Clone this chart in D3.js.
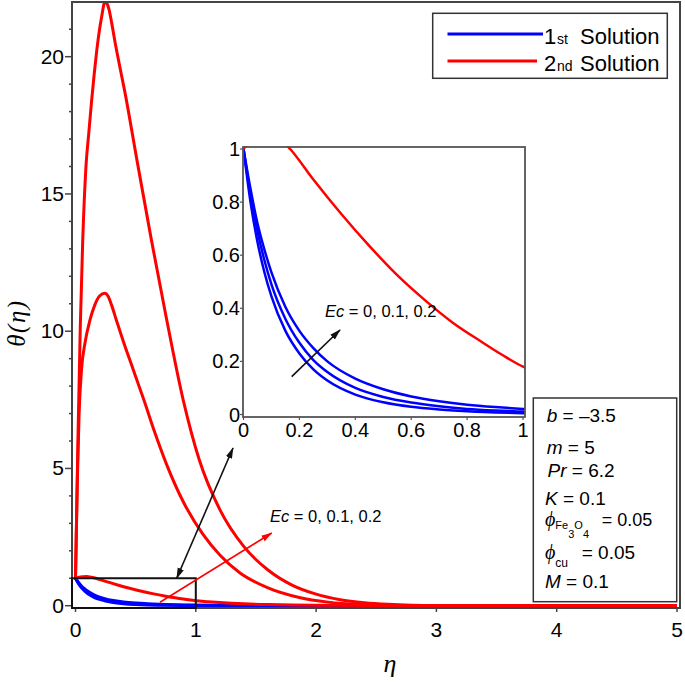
<!DOCTYPE html>
<html>
<head>
<meta charset="utf-8">
<script src="https://d3js.org/d3.v7.min.js"></script>
<style>
body {margin: 0; background: #fff;}
text {font-family: "Liberation Sans", Arial, sans-serif; fill: #000;}
.it {font-style: italic;}
.ser {font-family: "Liberation Serif", "DejaVu Serif", serif; font-style: italic;}
</style>
</head>
<body>
<div id="chart"></div>
<script>
// 2nd solution, Ec = 0.2 and Ec = 0.1
var etaBig = [0, 0.02, 0.04, 0.06, 0.087, 0.11, 0.134, 0.155, 0.176, 0.2, 0.217, 0.245, 0.26, 0.28, 0.3, 0.33, 0.37, 0.411, 0.508, 0.632, 0.75, 0.895, 1.03, 1.2, 1.4, 1.6, 1.8, 2.0, 2.2, 2.4, 2.6, 2.8, 3.0, 3.5, 4, 5];
var redEc02 = [1, 6, 10.2, 13.3, 16, 17.2, 18.4, 19.35, 20.2, 21.0, 21.45, 22.0, 21.95, 21.7, 21.25, 20.5, 19.6, 18.7, 16.3, 13.3, 10.6, 7.5, 5.3, 3.5, 2.15, 1.3, 0.75, 0.42, 0.22, 0.11, 0.05, 0.02, 0.008, 0, 0, 0];
var etaMid = [0, 0.015, 0.03, 0.05, 0.08, 0.12, 0.16, 0.2, 0.245, 0.27, 0.3, 0.34, 0.4, 0.48, 0.568, 0.66, 0.757, 0.9, 1.06, 1.2, 1.365, 1.6, 1.86, 2.1, 2.4, 2.7, 3.0, 4, 5];
var redEc01 = [1, 4.5, 7.0, 8.6, 9.6, 10.4, 10.95, 11.28, 11.38, 11.28, 10.95, 10.4, 9.6, 8.6, 7.5, 6.3, 5.15, 3.75, 2.6, 1.85, 1.2, 0.65, 0.3, 0.13, 0.04, 0.01, 0, 0, 0];
// 2nd solution, Ec = 0
var etaRed0 = [0, 0.04, 0.09, 0.13, 0.167, 0.25, 0.35, 0.45, 0.55, 0.65, 0.75, 0.85, 0.925, 1.0, 1.1, 1.2, 1.4, 1.6, 1.8, 2.0, 2.5, 3, 4, 5];
var redEc0 = [1, 1.045, 1.06, 1.04, 1.0, 0.885, 0.755, 0.635, 0.525, 0.43, 0.345, 0.275, 0.225, 0.18, 0.145, 0.115, 0.07, 0.042, 0.025, 0.015, 0.004, 0, 0, 0];

// 1st solution, Ec = 0, 0.1, 0.2
var etaBlue = [0, 0.025, 0.05, 0.075, 0.1, 0.15, 0.2, 0.25, 0.3, 0.4, 0.5, 0.6, 0.7, 0.8, 0.9, 1.0, 1.25, 1.5, 2, 3, 4, 5];
var blueEc0 = [1, 0.8, 0.65, 0.535, 0.445, 0.315, 0.23, 0.17, 0.128, 0.075, 0.046, 0.029, 0.019, 0.012, 0.008, 0.005, 0.002, 0, 0, 0, 0, 0];
var blueEc01 = [1, 0.83, 0.69, 0.58, 0.49, 0.36, 0.27, 0.205, 0.16, 0.1, 0.066, 0.045, 0.031, 0.021, 0.015, 0.011, 0.005, 0.002, 0, 0, 0, 0];
var blueEc02 = [1, 0.85, 0.72, 0.62, 0.535, 0.405, 0.315, 0.25, 0.2, 0.135, 0.095, 0.068, 0.05, 0.037, 0.028, 0.021, 0.01, 0.005, 0.001, 0, 0, 0];

var xTicks = [0, 1, 2, 3, 4, 5];
var yTicks = [0, 5, 10, 15, 20];
var insetTicks = [0, 0.2, 0.4, 0.6, 0.8, 1];
var legendLabels = [["1", "st", "blue"], ["2", "nd", "red"]];

var width = 685, height = 685;
var svg = d3.select("#chart").append("svg")
	.attr("width", width)
	.attr("height", height);

var x = d3.scaleLinear().domain([0, 5]).range([75.5, 677]);
var y = d3.scaleLinear().domain([0, 20]).range([605.7, 56.7]);

var frameL = 72, frameR = 680, frameT = 2, frameB = 608;

function toPts(xs, ys) {
	return xs.map(function(d, i) { return [d, ys[i]]; });
}

svg.append("clipPath").attr("id", "mainClip").append("rect")
	.attr("x", frameL).attr("y", frameT)
	.attr("width", frameR - frameL).attr("height", frameB - frameT);

var mainLine = d3.line()
	.x(function(d) { return x(d[0]); })
	.y(function(d) { return y(d[1]); })
	.curve(d3.curveMonotoneX);

var plot = svg.append("g").attr("clip-path", "url(#mainClip)");

[blueEc0, blueEc01, blueEc02].forEach(function(s) {
	plot.append("path")
		.attr("d", mainLine(toPts(etaBlue, s)))
		.attr("fill", "none")
		.attr("stroke", "#0000ff")
		.attr("stroke-width", 3);
});
[[etaRed0, redEc0], [etaMid, redEc01], [etaBig, redEc02]].forEach(function(s) {
	plot.append("path")
		.attr("d", mainLine(toPts(s[0], s[1])))
		.attr("fill", "none")
		.attr("stroke", "#ff0000")
		.attr("stroke-width", 3);
});

// frame
svg.append("rect")
	.attr("x", frameL).attr("y", frameT)
	.attr("width", frameR - frameL).attr("height", frameB - frameT)
	.attr("fill", "none").attr("stroke", "#444").attr("stroke-width", 2);

// y ticks, minor every 1
d3.range(0, 22).forEach(function(v) {
	var major = v % 5 == 0;
	svg.append("line")
		.attr("x1", frameL - (major ? 7 : 3)).attr("x2", frameL)
		.attr("y1", y(v)).attr("y2", y(v))
		.attr("stroke", "#444").attr("stroke-width", 1.5);
});
yTicks.forEach(function(v) {
	svg.append("text")
		.attr("x", 64).attr("y", y(v) + 7)
		.attr("text-anchor", "end")
		.attr("font-size", 21)
		.text(v);
});
xTicks.forEach(function(v) {
	svg.append("line")
		.attr("x1", x(v)).attr("x2", x(v))
		.attr("y1", frameB).attr("y2", frameB + 4)
		.attr("stroke", "#444").attr("stroke-width", 1.5);
	svg.append("text")
		.attr("x", x(v)).attr("y", 637)
		.attr("text-anchor", "middle")
		.attr("font-size", 21)
		.text(v);
});

// axis titles
svg.append("text")
	.attr("class", "ser")
	.attr("transform", "translate(25,323) rotate(-90)")
	.attr("text-anchor", "middle")
	.attr("font-size", 25)
	.attr("letter-spacing", 1.5)
	.text("θ(η)");
svg.append("text")
	.attr("class", "ser")
	.attr("x", 390).attr("y", 672)
	.attr("text-anchor", "middle")
	.attr("font-size", 26)
	.text("η");

// zoom box
svg.append("rect")
	.attr("x", frameL).attr("y", y(1))
	.attr("width", x(1) - frameL).attr("height", frameB - y(1))
	.attr("fill", "none").attr("stroke", "#111").attr("stroke-width", 2);

// arrows
var defs = svg.append("defs");
[["headK", "#111"], ["headR", "#ff0000"]].forEach(function(m) {
	defs.append("marker")
		.attr("id", m[0])
		.attr("viewBox", "0 0 12 10")
		.attr("refX", 11).attr("refY", 5)
		.attr("markerWidth", 7).attr("markerHeight", 6)
		.attr("orient", "auto-start-reverse")
		.append("path")
		.attr("d", "M0,1.5 L12,5 L0,8.5 Z")
		.attr("fill", m[1]);
});

svg.append("line")
	.attr("x1", 176.7).attr("y1", 578.3).attr("x2", 233).attr("y2", 448)
	.attr("stroke", "#111").attr("stroke-width", 1.6)
	.attr("marker-start", "url(#headK)").attr("marker-end", "url(#headK)");
svg.append("line")
	.attr("x1", 160).attr("y1", 602.3).attr("x2", 271.7).attr("y2", 533)
	.attr("stroke", "#ff0000").attr("stroke-width", 1.6)
	.attr("marker-end", "url(#headR)");

function ecLabel(g, px, py) {
	var t = g.append("text").attr("x", px).attr("y", py).attr("font-size", 16.5);
	t.append("tspan").attr("class", "it").text("Ec");
	t.append("tspan").text(" = 0, 0.1, 0.2");
}
ecLabel(svg, 270, 521.7);

// inset
var ix = d3.scaleLinear().domain([0, 1]).range([243.5, 523]);
var iy = d3.scaleLinear().domain([0, 1]).range([414.5, 149]);
var iL = 243, iR = 525, iT = 147, iB = 417;

svg.append("rect")
	.attr("x", iL).attr("y", iT).attr("width", iR - iL).attr("height", iB - iT)
	.attr("fill", "#fff");

svg.append("clipPath").attr("id", "insetClip").append("rect")
	.attr("x", iL).attr("y", iT - 1).attr("width", iR - iL).attr("height", iB - iT + 1);

var insetLine = d3.line()
	.x(function(d) { return ix(d[0]); })
	.y(function(d) { return iy(d[1]); })
	.curve(d3.curveMonotoneX);

var inset = svg.append("g").attr("clip-path", "url(#insetClip)");
[blueEc0, blueEc01, blueEc02].forEach(function(s) {
	inset.append("path")
		.attr("d", insetLine(toPts(etaBlue, s)))
		.attr("fill", "none")
		.attr("stroke", "#0000ff")
		.attr("stroke-width", 2.5);
});
inset.append("path")
	.attr("d", insetLine(toPts(etaRed0, redEc0)))
	.attr("fill", "none").attr("stroke", "#ff0000").attr("stroke-width", 2.5);

svg.append("rect")
	.attr("x", iL).attr("y", iT).attr("width", iR - iL).attr("height", iB - iT)
	.attr("fill", "none").attr("stroke", "#555").attr("stroke-width", 1.8);

insetTicks.forEach(function(v) {
	svg.append("line")
		.attr("x1", iL - 3).attr("x2", iL).attr("y1", iy(v)).attr("y2", iy(v))
		.attr("stroke", "#555").attr("stroke-width", 1.2);
	svg.append("text")
		.attr("x", 240).attr("y", iy(v) + 7)
		.attr("text-anchor", "end").attr("font-size", 20)
		.text(v);
	svg.append("line")
		.attr("x1", ix(v)).attr("x2", ix(v)).attr("y1", iB).attr("y2", iB + 3)
		.attr("stroke", "#555").attr("stroke-width", 1.2);
	svg.append("text")
		.attr("x", ix(v)).attr("y", 437)
		.attr("text-anchor", "middle").attr("font-size", 20)
		.text(v);
});

svg.append("line")
	.attr("x1", 291.7).attr("y1", 376.7).attr("x2", 340).attr("y2", 330)
	.attr("stroke", "#111").attr("stroke-width", 1.6)
	.attr("marker-end", "url(#headK)");
ecLabel(svg, 325, 316.7);

// legend
svg.append("rect")
	.attr("x", 432.7).attr("y", 13.3).attr("width", 234.6).attr("height", 65)
	.attr("fill", "#fff").attr("stroke", "#333").attr("stroke-width", 1.5);
legendLabels.forEach(function(l, i) {
	var ly = [34, 61][i];
	svg.append("line")
		.attr("x1", 447.5).attr("x2", i == 0 ? 543 : 537)
		.attr("y1", ly).attr("y2", ly)
		.attr("stroke", l[2] == "blue" ? "#0000ff" : "#ff0000")
		.attr("stroke-width", 3);
	svg.append("text").attr("x", 544).attr("y", ly + 9.5).attr("font-size", 22).text(l[0]);
	svg.append("text").attr("x", 557).attr("y", ly + 9.5).attr("font-size", 14).text(l[1]);
	svg.append("text").attr("x", 580).attr("y", ly + 9.5).attr("font-size", 22).text("Solution");
});

// parameter box
svg.append("rect")
	.attr("x", 533.3).attr("y", 398).attr("width", 143.4).attr("height", 203.7)
	.attr("fill", "#fff").attr("stroke", "#333").attr("stroke-width", 1.5);

var params = [["b", " = –3.5", 422.3, 546.7], ["m", " = 5", 454, 546.7], ["Pr", " = 6.2", 477.3, 547.5], ["K", " = 0.1", 505, 545], ["M", " = 0.1", 588.3, 545]];
params.forEach(function(p) {
	var t = svg.append("text").attr("x", p[3]).attr("y", p[2]).attr("font-size", 19);
	t.append("tspan").attr("class", "it").text(p[0]);
	t.append("tspan").text(p[1]);
});

var phi1 = svg.append("text").attr("x", 545).attr("y", 526.3).attr("font-size", 11);
phi1.append("tspan").attr("class", "ser").attr("font-size", 20).text("ϕ");
phi1.append("tspan").attr("dy", 3).text("Fe");
phi1.append("tspan").attr("dy", 9).text("3");
phi1.append("tspan").attr("dy", -9).text("O");
phi1.append("tspan").attr("dy", 9).text("4");
svg.append("text").attr("x", 601.7).attr("y", 526.3).attr("font-size", 18).text("= 0.05");

var phi2 = svg.append("text").attr("x", 545).attr("y", 558.5).attr("font-size", 12);
phi2.append("tspan").attr("class", "ser").attr("font-size", 20).text("ϕ");
phi2.append("tspan").attr("dy", 8.5).text("cu");
svg.append("text").attr("x", 581.7).attr("y", 559).attr("font-size", 19).text("= 0.05");
</script>
</body>
</html>
